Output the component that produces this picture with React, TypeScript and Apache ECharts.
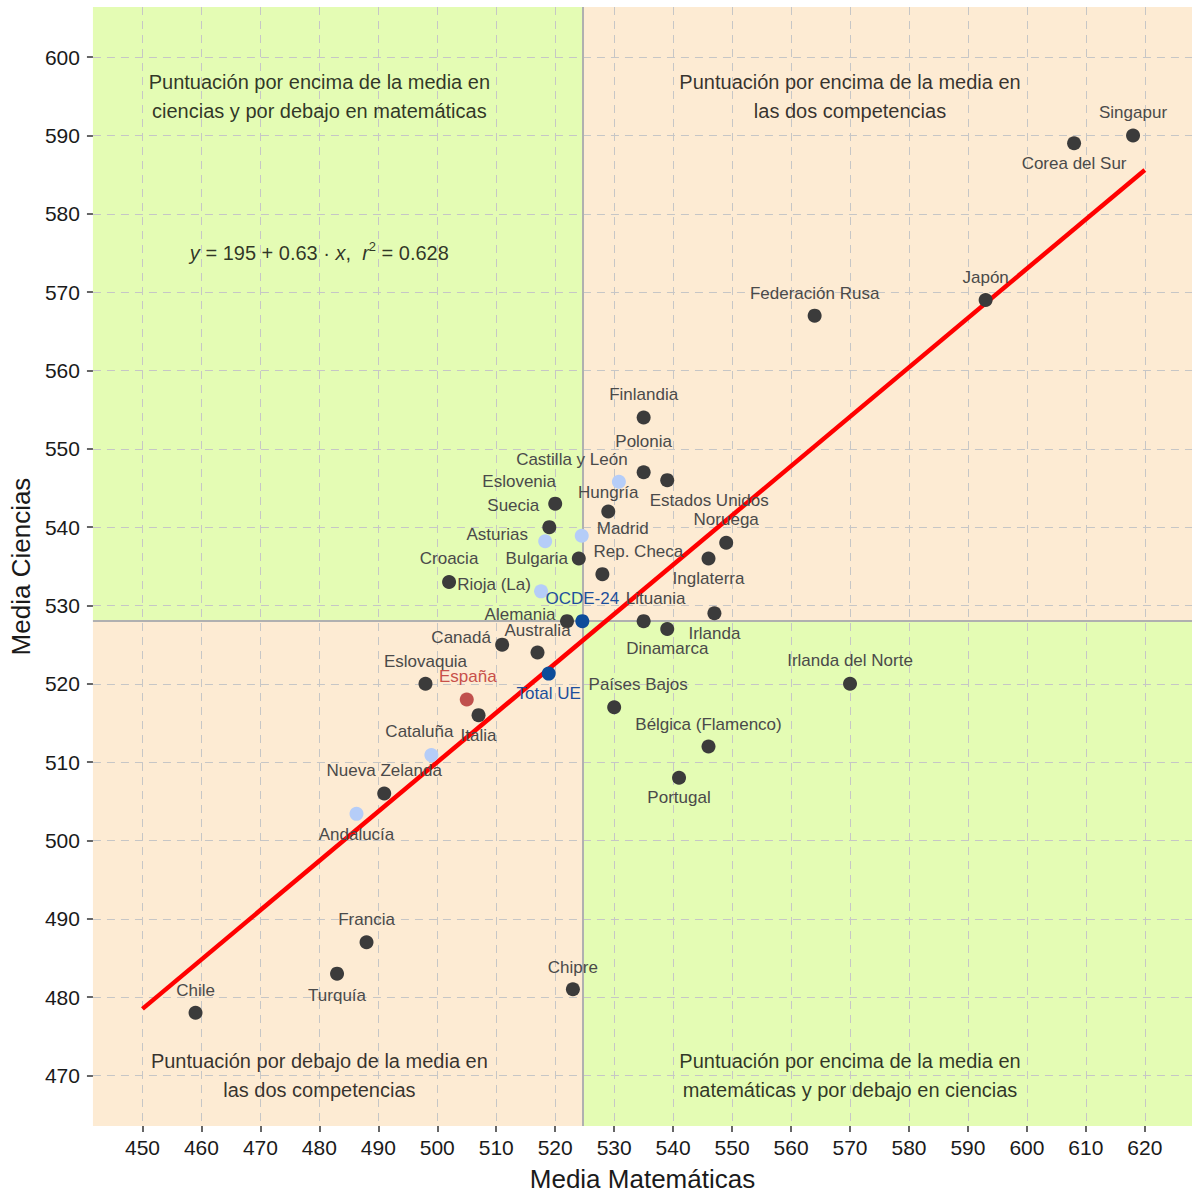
import React, { useEffect, useRef } from "react";
import * as echarts from "echarts";

// ---- Data (TIMSS 2015, 4º curso) ----
const names = [
  "Singapur", "Corea del Sur", "Japón", "Federación Rusa", "Irlanda del Norte",
  "Noruega", "Irlanda", "Inglaterra", "Bélgica (Flamenco)", "Portugal",
  "Estados Unidos", "Dinamarca", "Lituania", "Finlandia", "Polonia",
  "Países Bajos", "Hungría", "Rep. Checa", "Bulgaria", "Chipre",
  "Alemania", "Eslovenia", "Suecia", "Australia", "Canadá",
  "Italia", "España", "Croacia", "Eslovaquia", "Nueva Zelanda",
  "Francia", "Turquía", "Chile",
  "Castilla y León", "Madrid", "Asturias", "Rioja (La)", "Cataluña", "Andalucía",
  "OCDE-24", "Total UE",
];
const math = [
  618, 608, 593, 564, 570,
  549, 547, 546, 546, 541,
  539, 539, 535, 535, 535,
  530, 529, 528, 524, 523,
  522, 520, 519, 517, 511,
  507, 505, 502, 498, 491,
  488, 483, 459,
  530.8, 524.5, 518.3, 517.6, 499, 486.3,
  524.6, 518.9,
];
const science = [
  590, 589, 569, 567, 520,
  538, 529, 536, 512, 508,
  546, 527, 528, 554, 547,
  517, 542, 534, 536, 481,
  528, 543, 540, 524, 525,
  516, 518, 533, 520, 506,
  487, 483, 478,
  545.8, 538.9, 538.2, 531.8, 510.9, 503.4,
  528, 521.3,
];
// kind: c = country, r = Spanish region, a = average, s = Spain
const kinds = [
  "c", "c", "c", "c", "c",
  "c", "c", "c", "c", "c",
  "c", "c", "c", "c", "c",
  "c", "c", "c", "c", "c",
  "c", "c", "c", "c", "c",
  "c", "s", "c", "c", "c",
  "c", "c", "c",
  "r", "r", "r", "r", "r", "r",
  "a", "a",
];

const xTicks = [450, 460, 470, 480, 490, 500, 510, 520, 530, 540, 550, 560, 570, 580, 590, 600, 610, 620];
const yTicks = [470, 480, 490, 500, 510, 520, 530, 540, 550, 560, 570, 580, 590, 600];

// regression y = 195 + 0.63 x
const regIntercept = 195;
const regSlope = 0.63;
const regX = [450, 620];

const quadrantTexts = [
  "Puntuación por encima de la media en\nciencias y por debajo en matemáticas",
  "Puntuación por encima de la media en\nlas dos competencias",
  "Puntuación por debajo de la media en\nlas dos competencias",
  "Puntuación por encima de la media en\nmatemáticas y por debajo en ciencias",
];

// ---- Layout / style (kept apart from the data) ----
const X_MIN = 441.6, X_MAX = 628, Y_MIN = 463.55, Y_MAX = 606.4;
const quadrantTextPos = [[480, 595], [570, 595], [480, 470], [570, 470]];
const equationPos = [480, 575];

const labelOffsets: Record<string, [number, number]> = {
  "Singapur": [0, -23], "Corea del Sur": [0, 20], "Japón": [0, -22], "Federación Rusa": [0, -22],
  "Finlandia": [0, -23], "Polonia": [0, -31], "Castilla y León": [-47, -22], "Estados Unidos": [42, 20],
  "Hungría": [0, -19], "Eslovenia": [-36, -22], "Suecia": [-36, -22], "Madrid": [41, -7],
  "Asturias": [-48, -7], "Noruega": [0, -23], "Rep. Checa": [36, -23], "Bulgaria": [-42, 0],
  "Croacia": [0, -23], "Rioja (La)": [-47, -7], "Inglaterra": [0, 20], "OCDE-24": [0, -23],
  "Lituania": [12, -23], "Alemania": [-47, -7], "Irlanda": [0, 20], "Dinamarca": [0, 20],
  "Canadá": [-41, -7], "Australia": [0, -22], "Eslovaquia": [0, -22], "España": [1, -23],
  "Total UE": [0, 20], "Países Bajos": [24, -23], "Irlanda del Norte": [0, -23], "Cataluña": [-12, -24],
  "Italia": [0, 20], "Bélgica (Flamenco)": [0, -22], "Portugal": [0, 20], "Nueva Zelanda": [0, -23],
  "Andalucía": [0, 21], "Francia": [0, -23], "Turquía": [0, 22], "Chipre": [0, -22], "Chile": [0, -22],
};

const FONT = "'Liberation Sans', Arial, Helvetica, sans-serif";
const GREEN = "#e4fcb4";
const ORANGE = "#fdebd3";
const pointColor: Record<string, string> = { c: "#3b3b3b", r: "#b5cdf8", a: "#0c4c9a", s: "#c0504d" };
const labelColor: Record<string, string> = { c: "#4a4a4a", r: "#4a4a4a", a: "#1d4f9c", s: "#c8504a" };

export default function App() {
  const ref = useRef<HTMLDivElement>(null);

  useEffect(() => {
    document.body.style.margin = "0";
    if (!ref.current) return;
    const chart = echarts.init(ref.current, null, { renderer: "svg" });

    const oIdx = names.indexOf("OCDE-24");
    const divX = math[oIdx];
    const divY = science[oIdx];

    const points = names.map((n, i) => ({
      value: [math[i], science[i]],
      name: n,
      itemStyle: { color: pointColor[kinds[i]], opacity: 1 },
      label: {
        show: true,
        formatter: n,
        position: "inside",
        offset: labelOffsets[n] || [0, -22],
        color: labelColor[kinds[i]],
        fontSize: 17,
        fontFamily: FONT,
      },
    }));

    const axisCommon = {
      type: "value",
      z: 3,
      axisLine: { show: false },
      axisTick: { show: true, length: 6, lineStyle: { color: "#333", width: 1.5 } },
      splitLine: { show: true, lineStyle: { color: "#c6c6c6", width: 1, type: [8, 6] } },
      axisLabel: { color: "#1a1a1a", fontSize: 21, fontFamily: FONT },
      nameTextStyle: { color: "#1a1a1a", fontSize: 26, fontFamily: FONT },
      nameLocation: "middle",
    };

    chart.setOption({
      animation: false,
      grid: { left: 90.7, top: 7, right: 0, bottom: 67, containLabel: false },
      xAxis: {
        ...axisCommon,
        min: X_MIN,
        max: X_MAX,
        name: "Media Matemáticas",
        nameGap: 40,
        axisTick: { ...axisCommon.axisTick, customValues: xTicks },
        axisLabel: { ...axisCommon.axisLabel, margin: 11, customValues: xTicks },
      },
      yAxis: {
        ...axisCommon,
        min: Y_MIN,
        max: Y_MAX,
        name: "Media Ciencias",
        nameGap: 46,
        axisTick: { ...axisCommon.axisTick, customValues: yTicks },
        axisLabel: { ...axisCommon.axisLabel, margin: 13, customValues: yTicks },
      },
      series: [
        {
          type: "scatter",
          data: [],
          z: 1,
          silent: true,
          markArea: {
            silent: true,
            label: { show: false },
            data: [
              [{ coord: [X_MIN, divY], itemStyle: { color: GREEN, opacity: 1 } }, { coord: [divX, Y_MAX] }],
              [{ coord: [divX, divY], itemStyle: { color: ORANGE, opacity: 1 } }, { coord: [X_MAX, Y_MAX] }],
              [{ coord: [X_MIN, Y_MIN], itemStyle: { color: ORANGE, opacity: 1 } }, { coord: [divX, divY] }],
              [{ coord: [divX, Y_MIN], itemStyle: { color: GREEN, opacity: 1 } }, { coord: [X_MAX, divY] }],
            ],
          },
        },
        {
          type: "line",
          data: [],
          z: 4,
          silent: true,
          markLine: {
            silent: true,
            symbol: "none",
            label: { show: false },
            lineStyle: { color: "#b0b0b0", width: 2, type: "solid" },
            data: [{ xAxis: divX }, { yAxis: divY }],
          },
        },
        {
          type: "line",
          z: 5,
          silent: true,
          symbol: "none",
          lineStyle: { color: "#ff0000", width: 4.5 },
          data: regX.map((x) => [x, regIntercept + regSlope * x]),
        },
        {
          type: "scatter",
          z: 6,
          symbolSize: 14,
          data: points,
        },
        {
          type: "scatter",
          z: 7,
          symbolSize: 0,
          silent: true,
          data: quadrantTexts.map((t, i) => ({
            value: quadrantTextPos[i],
            label: {
              show: true,
              position: "inside",
              formatter: t,
              color: "#000",
              fontSize: 20,
              lineHeight: 29,
              fontFamily: FONT,
              align: "center",
            },
          })),
        },
        {
          type: "scatter",
          z: 7,
          symbolSize: 0,
          silent: true,
          data: [
            {
              value: equationPos,
              label: {
                show: true,
                position: "inside",
                formatter: "{i|y} = 195 + 0.63 · {i|x},  {i|r}{s|2} = 0.628",
                color: "#000",
                fontSize: 20,
                fontFamily: FONT,
                rich: {
                  i: { fontStyle: "italic", fontSize: 20, fontFamily: FONT, color: "#000" },
                  s: { fontSize: 13, fontFamily: FONT, color: "#000", padding: [0, 0, 12, 0] },
                },
              },
            },
          ],
        },
      ],
    });

    return () => chart.dispose();
  }, []);

  return <div ref={ref} style={{ width: 1192, height: 1197 }} />;
}
